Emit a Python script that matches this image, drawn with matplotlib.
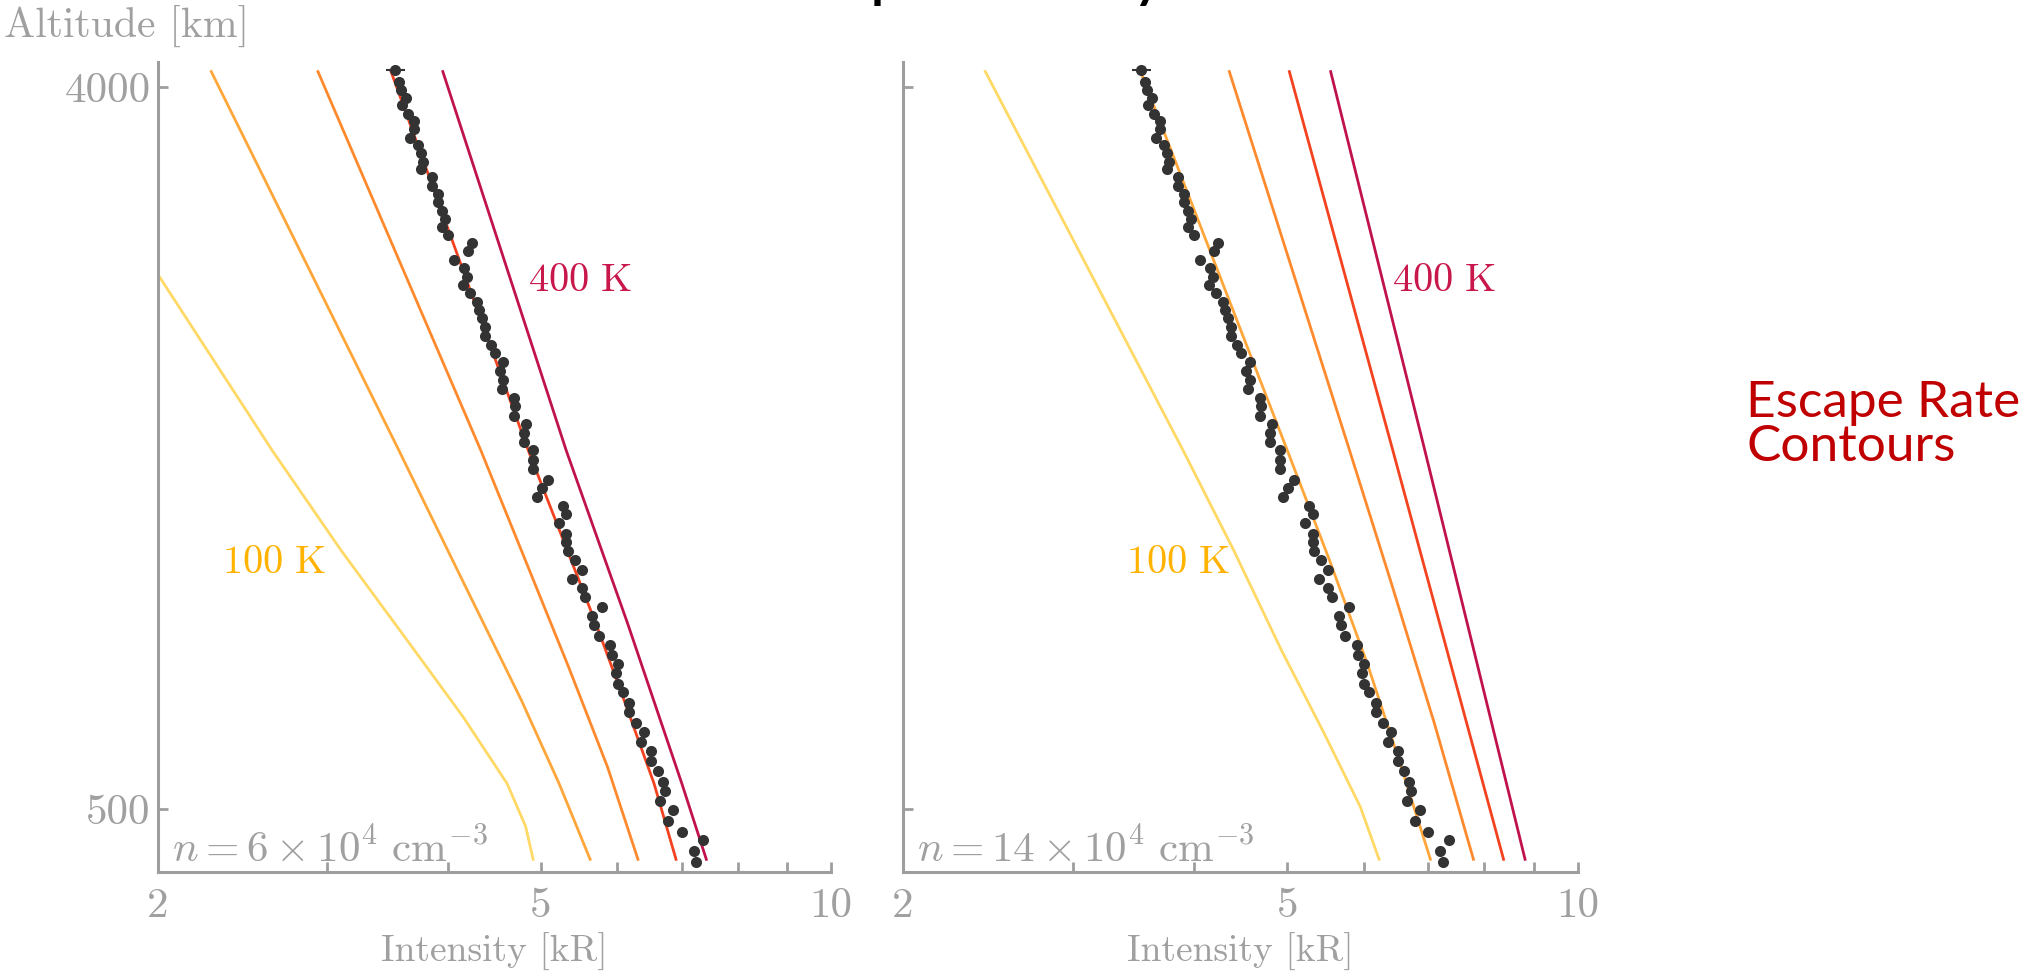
import numpy as np
import matplotlib
matplotlib.use("Agg")
import matplotlib.pyplot as plt
from matplotlib.ticker import NullFormatter

plt.rcParams["mathtext.fontset"] = "cm"
plt.rcParams["font.family"] = "serif"
plt.rcParams["font.serif"] = ["cmr10"]
plt.rcParams["axes.formatter.use_mathtext"] = True

# measured profile (same data in both panels)
dot_alt = [4080, 4021, 3983, 3945, 3912, 3870, 3832, 3795, 3754, 3719, 3678, 3638, 3601,
           3561, 3517, 3480, 3440, 3399, 3359, 3322, 3283, 3241, 3203, 3161, 3120, 3080,
           3040, 2999, 2956, 2919, 2878, 2835, 2793, 2751, 2709, 2665, 2622, 2581, 2536,
           2493, 2451, 2407, 2364, 2322, 2278, 2238, 2193, 2149, 2096, 2055, 2012, 1971,
           1931, 1888, 1834, 1794, 1750, 1708, 1657, 1613, 1573, 1528, 1478, 1436, 1392,
           1339, 1297, 1245, 1205, 1160, 1108, 1065, 1012, 971, 918, 874, 823, 781, 732,
           686, 632, 589, 539, 495, 444, 390, 350, 297, 245]
dot_int = [3.53, 3.56, 3.58, 3.62, 3.59, 3.64, 3.69, 3.69, 3.66, 3.73, 3.75, 3.77, 3.75,
           3.85, 3.85, 3.91, 3.91, 3.95, 3.97, 3.95, 4.00, 4.24, 4.20, 4.06, 4.16, 4.19,
           4.15, 4.22, 4.29, 4.31, 4.34, 4.37, 4.37, 4.44, 4.48, 4.57, 4.53, 4.57, 4.55,
           4.69, 4.70, 4.69, 4.82, 4.80, 4.80, 4.91, 4.91, 4.91, 5.08, 5.01, 4.95, 5.27,
           5.31, 5.22, 5.31, 5.31, 5.33, 5.42, 5.51, 5.39, 5.51, 5.56, 5.79, 5.65, 5.68,
           5.74, 5.90, 5.92, 6.01, 5.98, 6.01, 6.08, 6.17, 6.17, 6.28, 6.40, 6.35, 6.51,
           6.51, 6.61, 6.69, 6.72, 6.65, 6.86, 6.78, 7.00, 7.36, 7.20, 7.24]
top_xerr = 0.08

# escape-rate contours, n = 6e4 cm^-3
left_100_alt = [3093, 2238, 1754, 1334, 947, 624, 415, 250]
left_100_int = [2.0, 2.63, 3.1, 3.61, 4.15, 4.61, 4.82, 4.91]
left_175_alt = [4080, 2238, 1592, 1028, 624, 250]
left_175_int = [2.27, 3.56, 4.16, 4.77, 5.22, 5.63]
left_250_alt = [4080, 2238, 1754, 1189, 705, 250]
left_250_int = [2.93, 4.33, 4.77, 5.34, 5.86, 6.31]
left_325_alt = [4080, 2238, 1399, 1044, 624, 250]
left_325_int = [3.49, 4.85, 5.70, 6.08, 6.55, 6.91]
left_400_alt = [4080, 2238, 1399, 624, 250]
left_400_int = [3.95, 5.31, 6.15, 7.0, 7.43]

# escape-rate contours, n = 14e4 cm^-3
right_100_alt = [4080, 2238, 1754, 1270, 866, 511, 250]
right_100_int = [2.43, 3.9, 4.4, 4.93, 5.46, 5.95, 6.23]
right_175_alt = [4080, 2238, 1705, 1205, 705, 250]
right_175_int = [3.52, 5.0, 5.53, 6.05, 6.56, 7.04]
right_250_alt = [4080, 2238, 1592, 915, 250]
right_250_int = [4.35, 5.8, 6.41, 7.1, 7.8]
right_325_alt = [4080, 2238, 250]
right_325_int = [5.02, 6.43, 8.38]
right_400_alt = [4080, 2238, 250]
right_400_int = [5.54, 6.94, 8.82]

line_colors = ["#FFD966", "#FFA63A", "#FF8A2E", "#F2421F", "#C0134B"]
xticks = [2, 5, 10]
xtick_labels = ["2", "5", "10"]
xminor = [3, 4, 6, 7, 8, 9]
yticks = [500, 4000]
ytick_labels = ["500", "4000"]
gray = "#9E9E9E"

fig = plt.figure(figsize=(20.26, 9.8), dpi=100)
axL = fig.add_axes([0.0778, 0.1102, 0.3324, 0.8265])
axR = fig.add_axes([0.4457, 0.1102, 0.3332, 0.8265])

panels = [
    (axL, [(left_100_int, left_100_alt), (left_175_int, left_175_alt), (left_250_int, left_250_alt),
           (left_325_int, left_325_alt), (left_400_int, left_400_alt)],
     r"$n = 6 \times 10^4\ \mathrm{cm}^{-3}$", (4.85, 3060), (2.33, 1690)),
    (axR, [(right_100_int, right_100_alt), (right_175_int, right_175_alt), (right_250_int, right_250_alt),
           (right_325_int, right_325_alt), (right_400_int, right_400_alt)],
     r"$n = 14 \times 10^4\ \mathrm{cm}^{-3}$", (6.41, 3060), (3.40, 1690)),
]

for ax, curves, nlabel, pos400, pos100 in panels:
    for (xi, ya), c in zip(curves, line_colors):
        ax.plot(xi, ya, color=c, lw=2, solid_capstyle="butt", solid_joinstyle="round")
    ax.plot(dot_int, dot_alt, "o", ms=8, color="#333333", mec="none", zorder=3)
    ax.errorbar(dot_int[0], dot_alt[0], xerr=top_xerr, fmt="none", ecolor="#333333", elinewidth=1.5, zorder=3)

    ax.set_xscale("log")
    ax.set_xlim(2, 10)
    ax.set_ylim(195, 4120)
    ax.set_xticks(xticks)
    ax.set_xticklabels(xtick_labels)
    ax.set_xticks(xminor, minor=True)
    ax.xaxis.set_minor_formatter(NullFormatter())
    ax.set_yticks(yticks)
    for s in ("top", "right"):
        ax.spines[s].set_visible(False)
    for s in ("left", "bottom"):
        ax.spines[s].set_color(gray)
        ax.spines[s].set_linewidth(2.2)
    ax.tick_params(which="both", direction="in", length=7, width=2, color=gray,
                   labelcolor="#A0A0A0", labelsize=31)
    ax.tick_params(axis="x", which="both", pad=11)
    ax.tick_params(axis="y", pad=5)
    ax.set_xlabel("Intensity [kR]", fontsize=27, color="#A0A0A0")
    ax.xaxis.set_label_coords(0.5, -0.075)

    ax.text(pos400[0], pos400[1], r"$\mathrm{400\ K}$", color="#C8174B", fontsize=29, va="center", ha="left")
    ax.text(pos100[0], pos100[1], r"$\mathrm{100\ K}$", color="#FFB300", fontsize=29, va="center", ha="left")
    ax.text(0.021, 0.012, nlabel, transform=ax.transAxes, color="#A0A0A0", fontsize=31, va="baseline", ha="left")

axL.set_yticklabels(ytick_labels)
axR.set_yticklabels([])

fig.text(0.002, 0.9735, "Altitude [km]", color="#A0A0A0", fontsize=30, va="center", ha="left")
fig.text(0.862, 0.5296, "Escape Rate\nContours", family="Lato", color="#C00000", fontsize=37,
         va="baseline", ha="left", linespacing=0.95)
fig.text(0.3855, 1.006, "Dependency", family="Lato", color="black", fontsize=50, va="baseline", ha="left")

fig.savefig("out.png", dpi=100)
